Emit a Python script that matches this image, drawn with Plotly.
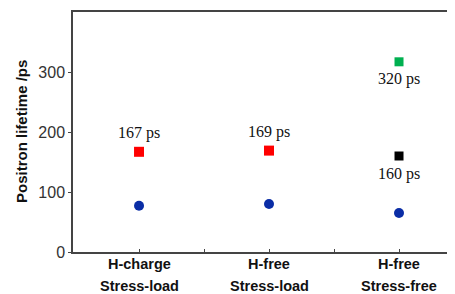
import plotly.graph_objects as go

line1 = ["H-charge", "H-free", "H-free"]
line2 = ["Stress-load", "Stress-load", "Stress-free"]
x_idx = [0, 1, 2]

blue_vals = [77, 80, 65]
red_vals = [167, 169]
green_vals = [317]
black_vals = [160]
label_red = ["167 ps", "169 ps"]
label_green = ["320 ps"]
label_black = ["160 ps"]
y_ticks = [0, 100, 200, 300]

fig = go.Figure()
fig.add_trace(go.Scatter(x=x_idx, y=blue_vals, mode="markers",
                         marker=dict(symbol="circle", size=10, color="#0A2DA6"), showlegend=False))
fig.add_trace(go.Scatter(x=x_idx[:2], y=red_vals, mode="markers",
                         marker=dict(symbol="square", size=10, color="#FF0000"), showlegend=False))
fig.add_trace(go.Scatter(x=[2], y=green_vals, mode="markers",
                         marker=dict(symbol="square", size=9, color="#00B050"), showlegend=False))
fig.add_trace(go.Scatter(x=[2], y=black_vals, mode="markers",
                         marker=dict(symbol="square", size=9, color="#000000"), showlegend=False))

serif = dict(family="Liberation Serif", size=16, color="#111")
for xi, v, t in zip(x_idx[:2], red_vals, label_red):
    fig.add_annotation(x=xi, y=v, text=t, showarrow=False, yshift=19, font=serif)
for v, t in zip(green_vals, label_green):
    fig.add_annotation(x=2, y=v, text=t, showarrow=False, yshift=-17, font=serif)
for v, t in zip(black_vals, label_black):
    fig.add_annotation(x=2, y=v, text=t, showarrow=False, yshift=-18, font=serif)

bold = dict(family="Arial, Liberation Sans", size=14.5, color="#111")
for xi, a, b in zip(x_idx, line1, line2):
    fig.add_annotation(x=xi, y=0, yref="paper", text="<b>%s</b>" % a, showarrow=False,
                       yanchor="middle", xanchor="center", yshift=-12, font=bold)
    fig.add_annotation(x=xi, y=0, yref="paper", text="<b>%s</b>" % b, showarrow=False,
                       yanchor="middle", xanchor="center", yshift=-34, font=bold)

fig.add_annotation(x=0, y=0.5, xref="paper", yref="paper", text="<b>Positron lifetime /ps</b>",
                   textangle=-90, showarrow=False, xanchor="center", yanchor="middle",
                   xshift=-52, font=dict(family="Arial, Liberation Sans", size=15, color="#111"))

# page has an 8px body margin; compensate so the plot lands where the reference has it
fig.update_layout(
    width=447, height=286,
    margin=dict(l=65, r=1, t=4, b=42, autoexpand=False),
    paper_bgcolor="white", plot_bgcolor="white",
    font=dict(family="Arial, Liberation Sans", color="#333"),
    xaxis=dict(range=[-0.508, 2.423], tickvals=[0, 0.5, 1, 1.5, 2], ticktext=["", "", "", "", ""],
               ticks="inside", ticklen=3, tickcolor="#444", showgrid=False, zeroline=False,
               showline=True, mirror=True, linecolor="#444", linewidth=1.5, automargin=False),
    yaxis=dict(range=[0, 400], tickvals=y_ticks, ticks="outside", ticklen=3,
               tickcolor="#444", showgrid=False, zeroline=False, showline=True,
               linecolor="#444", linewidth=1.5, tickfont=dict(size=16, color="#333"),
               automargin=False),
)

fig.write_html("out.html")
